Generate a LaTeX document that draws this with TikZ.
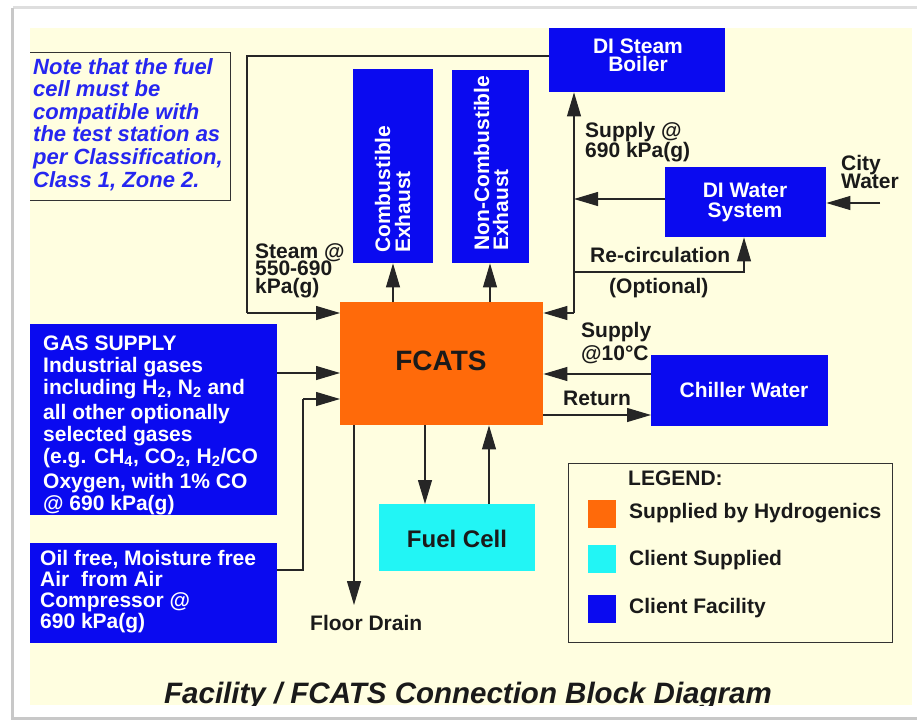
\documentclass[tikz,border=0pt]{standalone}
\usepackage{fontspec}
\setmainfont{Liberation Sans}
\usetikzlibrary{arrows.meta}
\definecolor{bgyel}{HTML}{FFFEE0}
\definecolor{cfblue}{HTML}{0A0AF0}
\definecolor{hyorange}{HTML}{FF6A0A}
\definecolor{clcyan}{HTML}{22F5F5}
\definecolor{notetxt}{HTML}{2626F0}
\definecolor{frame}{HTML}{C8C8C8}
\definecolor{txtdark}{HTML}{1A1A1A}
\newcommand\mylinesL[2]{\vtop{\baselineskip=#1\lineskiplimit=-100pt\lineskip=0pt\halign{##\hfil\cr#2\crcr}}}
\newcommand\mylinesC[2]{\vtop{\baselineskip=#1\lineskiplimit=-100pt\lineskip=0pt\halign{\hfil##\hfil\cr#2\crcr}}}
\begin{document}
\begin{tikzpicture}[x=1pt,y=-1pt,
  fbox/.style={draw=none,inner sep=0pt,anchor=north west},
  bluebox/.style={fbox,fill=cfblue},
  lbl/.style={inner sep=0pt,font=\bfseries\fontsize{21}{22}\selectfont,text=txtdark},
  wlbl/.style={lbl,text=white},
  conn/.style={line width=1.1pt,draw=black!85},
  arr/.style={conn,-{Triangle[length=24pt,width=14pt]}}
]
\useasboundingbox (0,0) rectangle (917,720);
\fill[white] (0,0) rectangle (917,720);
% page frame
\fill[frame!60] (13,6) rectangle (917,9);
\fill[frame] (11,8) rectangle (14,720);
\fill[frame] (11,716.5) rectangle (917,719.5);
% background
\fill[bgyel] (30,28) rectangle (912,705);

% note box (three sides)
\draw[line width=1pt,black!80] (30,52) -- (230,52) -- (230,200) -- (30,200);
\node[inner sep=0pt,anchor=base west,font=\bfseries\itshape\fontsize{22}{23}\selectfont,text=notetxt] (note) at (33,74)
  {\mylinesL{22.6pt}{Note that the fuel\cr cell must be\cr compatible with\cr the test station as\cr per Classification,\cr Class 1, Zone 2.}};

% boxes
\node[bluebox,minimum width=176pt,minimum height=64pt] (boiler) at (549,28) {};
\node[bluebox,minimum width=80pt,minimum height=194pt] (comb) at (353,69) {};
\node[bluebox,minimum width=77pt,minimum height=193pt] (noncomb) at (452,70) {};
\node[bluebox,minimum width=161pt,minimum height=70pt] (diwater) at (665,167) {};
\node[fbox,fill=hyorange,minimum width=203pt,minimum height=123pt] (fcats) at (340,302) {};
\node[bluebox,minimum width=177pt,minimum height=71pt] (chiller) at (651,355) {};
\node[bluebox,minimum width=247pt,minimum height=191pt] (gas) at (30,324) {};
\node[bluebox,minimum width=247pt,minimum height=100pt] (air) at (30,543) {};
\node[fbox,fill=clcyan,minimum width=156pt,minimum height=67pt] (fuel) at (379,504) {};

% box texts
\node[wlbl,anchor=base] (boilerT) at (638,53) {\mylinesC{18.5pt}{DI Steam\cr Boiler}};
\node[wlbl,anchor=base west,rotate=90] (combT) at (390,253) {\mylinesL{20pt}{Combustible\cr Exhaust}};
\node[wlbl,anchor=base west,rotate=90] (noncombT) at (489,251) {\mylinesL{19pt}{Non-Combustible\cr Exhaust}};
\node[wlbl,anchor=base] (diwaterT) at (745,197) {\mylinesC{20pt}{DI Water\cr System}};
\node[lbl,anchor=base,font=\bfseries\fontsize{28}{30}\selectfont] (fcatsT) at (441,370) {FCATS};
\node[wlbl,anchor=base] (chillerT) at (744,397) {Chiller Water};
\node[lbl,anchor=base,font=\bfseries\fontsize{24}{26}\selectfont] (fuelT) at (457,547) {Fuel Cell};
\node[wlbl,anchor=base west] (gasT) at (43,350)
  {\mylinesL{22pt}{GAS SUPPLY\cr Industrial gases\cr including H\textsubscript{2}, N\textsubscript{2} and\cr \noalign{\vskip3pt}all other optionally\cr selected gases\cr (e.g. CH\textsubscript{4}, CO\textsubscript{2}, H\textsubscript{2}/CO\cr \noalign{\vskip3pt}Oxygen, with 1\% CO\cr @ 690 kPa(g)}};
\node[wlbl,anchor=base west] (airT) at (40,565)
  {\mylinesL{21pt}{Oil free, Moisture free\cr Air\ \ from Air\cr Compressor @\cr 690 kPa(g)}};

% connector coordinates
\coordinate (stA) at (247,56);
\coordinate (stB) at (247,313);
\coordinate (vTop) at (574,95);
\coordinate (vBot) at (574,313);
\coordinate (vMid) at (574,199);
\coordinate (vRec) at (574,272);
\coordinate (recR) at (744,272);
\coordinate (cityS) at (880,203);
\coordinate (airA) at (303,570);
\coordinate (airB) at (303,399);
\coordinate (drainEnd) at (354,605);

% connectors
\draw[conn] (boiler.west |- stA) -- (stA) -- (stB);
\draw[arr] (stB) -- (fcats.west |- stB);
\draw[arr] (fcats.north -| 393,0) -- (comb.south -| 393,0);
\draw[arr] (fcats.north -| 490,0) -- (noncomb.south -| 490,0);
\draw[conn] (vBot) -- (vTop);
\draw[arr] (vRec) -- (boiler.south -| vTop);
\draw[arr] (vBot) -- (fcats.east |- vBot);
\draw[arr] (diwater.west |- vMid) -- (vMid);
\draw[arr] (cityS) -- (diwater.east |- cityS);
\draw[arr] (vRec) -- (recR) -- (diwater.south -| recR);
\draw[arr] (gas.east |- 0,373) -- (fcats.west |- 0,373);
\draw[conn] (air.east |- airA) -- (airA) -- (airB);
\draw[arr] (airB) -- (fcats.west |- airB);
\draw[arr] (fcats.south -| drainEnd) -- (drainEnd);
\draw[arr] (fcats.south -| 425,0) -- (fuel.north -| 425,0);
\draw[arr] (fuel.north -| 489,0) -- (fcats.south -| 489,0);
\draw[arr] (chiller.west |- 0,374) -- (fcats.east |- 0,374);
\draw[arr] (fcats.east |- 0,415) -- (chiller.west |- 0,415);

% connector labels
\node[lbl,anchor=base west] (steamL) at (255,258) {\mylinesL{17.5pt}{Steam @\cr 550-690\cr kPa(g)}};
\node[lbl,anchor=base west] (supL) at (585,137) {\mylinesL{20pt}{Supply @\cr 690 kPa(g)}};
\node[lbl,anchor=base west] (cityL) at (841,170) {\mylinesL{18.5pt}{City\cr Water}};
\node[lbl,anchor=base west] (recL) at (590,262) {Re-circulation};
\node[lbl,anchor=base west] (optL) at (609,293) {(Optional)};
\node[lbl,anchor=base west] (chsupL) at (581,337) {\mylinesL{23pt}{Supply\cr @10°C}};
\node[lbl,anchor=base west] (retL) at (563,405) {Return};
\node[lbl,anchor=base west] (drainL) at (310,630) {Floor Drain};

% legend
\node[fbox,draw=black!80,line width=1pt,minimum width=324pt,minimum height=179pt] (legend) at (568,463) {};
\node[lbl,anchor=base west] (legT) at (628,485) {LEGEND:};
\node[fbox,fill=hyorange,minimum width=28pt,minimum height=28pt] (legO) at (588,500) {};
\node[fbox,fill=clcyan,minimum width=28pt,minimum height=28pt] (legC) at (588,545) {};
\node[fbox,fill=cfblue,minimum width=28pt,minimum height=28pt] (legB) at (588,595) {};
\node[lbl,anchor=base west] (legOT) at (629,518) {Supplied by Hydrogenics};
\node[lbl,anchor=base west] (legCT) at (629,565) {Client Supplied};
\node[lbl,anchor=base west] (legBT) at (629,613) {Client Facility};

% title (clipped at the bottom of the background)
\begin{scope}
\clip (30,28) rectangle (912,705);
\node[lbl,anchor=base,font=\bfseries\itshape\fontsize{29.5}{31}\selectfont] (title) at (468,703) {Facility / FCATS Connection Block Diagram};
\end{scope}
\end{tikzpicture}
\end{document}
